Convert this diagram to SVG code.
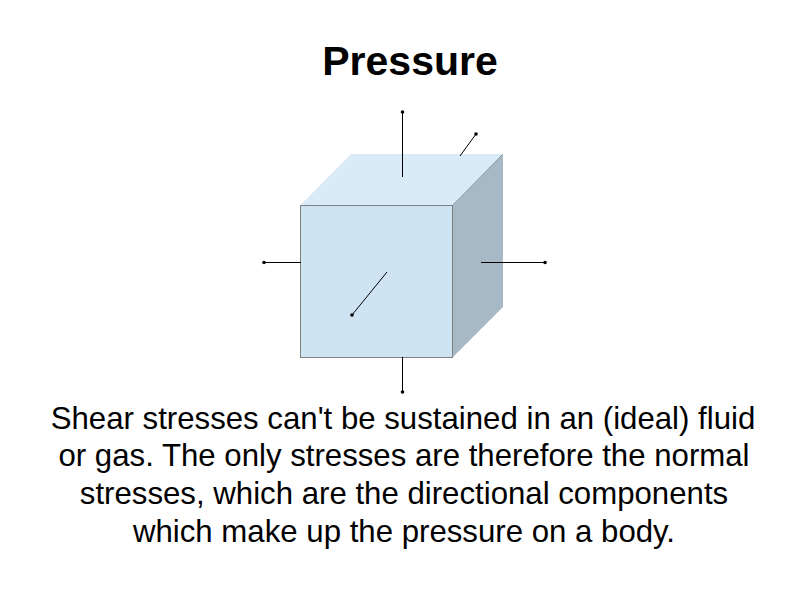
<svg xmlns="http://www.w3.org/2000/svg" width="797" height="598" viewBox="0 0 797 598">
<defs><marker id="dot" markerUnits="userSpaceOnUse" markerWidth="5" markerHeight="5" refX="2.5" refY="2.5"><circle cx="2.5" cy="2.5" r="1.8" fill="#000"/></marker></defs>
<style>
text{font-family:"Liberation Sans",Arial,sans-serif;fill:#000;text-anchor:middle}
.t{font-size:41px;font-weight:bold}
.b{font-size:31.200px}
.c{stroke:#000;stroke-width:1;fill:none;marker-end:url(#dot)}
.e{stroke:#8a9aa6;stroke-width:1;fill:none}
</style>
<rect width="797" height="598" fill="#fff"/>
<text class="t" x="410" y="75">Pressure</text>
<g id="cube">
<polygon points="300,205.500 351,154 503,154 452.500,205.500" fill="#daebf8"/>
<polygon points="452.500,205.500 503,154 503,307 452.500,357.500" fill="#a7b9c5"/>
<line class="e" x1="452.500" y1="205.500" x2="502.500" y2="154.500"/>
<rect x="300.500" y="205.500" width="152" height="152" fill="#cfe4f3" stroke="#808080" stroke-width="1"/>
</g>
<g id="connectors">
<line class="c" x1="402.500" y1="177" x2="402.500" y2="112"/>
<line class="c" x1="460" y1="156" x2="476" y2="134"/>
<line class="c" x1="301" y1="262.500" x2="264" y2="262.500"/>
<line class="c" x1="481" y1="262.500" x2="545" y2="262.500"/>
<line class="c" x1="387" y1="272" x2="352" y2="315"/>
<line class="c" x1="402.500" y1="357" x2="402.500" y2="392"/>
</g>
<g id="caption" class="b">
<text x="403" y="429">Shear stresses can't be sustained in an (ideal) fluid</text>
<text x="404" y="466">or gas. The only stresses are therefore the normal</text>
<text x="404" y="504">stresses, which are the directional components</text>
<text x="404" y="542">which make up the pressure on a body.</text>
</g>
</svg>
